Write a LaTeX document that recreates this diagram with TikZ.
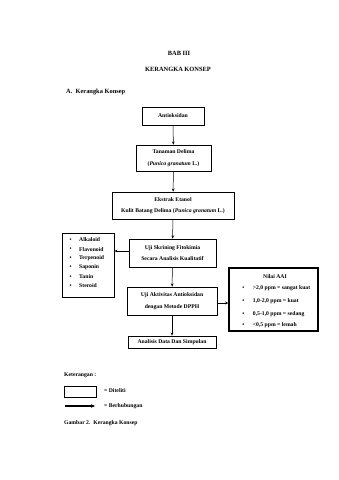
\documentclass[tikz,border=0pt]{standalone}
\usepackage{fontspec}
\setmainfont{Liberation Serif}
\usetikzlibrary{arrows.meta}
\begin{document}
\begin{tikzpicture}[x=1pt,y=-1pt,
  every node/.style={font=\fontsize{5.7}{11.6}\selectfont\bfseries, inner sep=0pt},
  box/.style={draw, line width=0.6pt, rectangle, align=center},
  conn/.style={line width=0.5pt, -{Stealth[length=3.2pt,width=2.6pt]}},
  txt/.style={anchor=west},
  head/.style={font=\fontsize{6.4}{8}\selectfont\bfseries}]
\useasboundingbox (0,0) rectangle (339,480);
\fill[white] (0,0) rectangle (339,480);
\node[head] (bab) at (179,53) {BAB III};
\node[head] (judul) at (178,69) {KERANGKA KONSEP};
\node[txt, head] (sub) at (66,92) {A.\enspace Kerangka Konsep};

\node[box, minimum width=62pt, minimum height=18pt] (anti) at (173,116) {Antioksidan};
\node[box, minimum width=75pt, minimum height=26pt] (tan) at (173.5,158) {Tanaman Delima\\ (\textit{Punica granatum} L.)};
\node[box, minimum width=122pt, minimum height=27pt] (eks) at (173,205.5) {Ekstrak Etanol\\ Kulit Batang Delima (\textit{Punica granatum} L.)};
\node[box, minimum width=87pt, minimum height=28pt] (skr) at (172.5,253) {Uji Skrining Fitokimia\\ Secara Analisis Kualitatif};
\node[box, minimum width=90pt, minimum height=28pt] (akt) at (172,301) {Uji Aktivitas Antioksidan\\ dengan Metode DPPH};
\node[box, minimum width=88pt, minimum height=12pt] (ana) at (172,342) {Analisis Data Dan Simpulan};

\node[box, minimum width=52pt, minimum height=64pt] (list) at (88,265) {};
\foreach \t [count=\i] in {Alkaloid,Flavonoid,Terpenoid,Saponin,Tanin,Steroid}{
  \node (b\i) at (70.7,{240+9.2*(\i-1)}) {\textbullet};
  \node[txt] (l\i) at (79,{240+9.2*(\i-1)}) {\t};
}

\node[box, line width=1.3pt, minimum width=89pt, minimum height=63pt] (aai) at (273.5,299.5) {};
\node (aait) at (275,276.7) {Nilai AAI};
\node (n1) at (243.3,288.3) {\textbullet};
\node[txt] (m1) at (252.7,288.3) {>2,0 ppm = sangat kuat};
\node (n2) at (243.3,301.5) {\textbullet};
\node[txt] (m2) at (252.7,301.5) {1,0-2,0 ppm = kuat};
\node (n3) at (243.3,314.3) {\textbullet};
\node[txt] (m3) at (252.7,314.3) {0,5-1,0 ppm = sedang};
\node (n4) at (243.3,325) {\textbullet};
\node[txt] (m4) at (252.7,325) {<0,5 ppm = lemah};

\draw[conn] (anti) -- (tan);
\draw[conn] (tan) -- (eks);
\draw[conn] (eks) -- (skr);
\draw[conn] (skr) -- (akt);
\draw[conn] (akt) -- (ana);
\coordinate (s1) at ([yshift=2pt]skr.west);
\draw[conn] (s1) -- (s1 -| list.east);
\coordinate (a1) at ([yshift=-2pt]akt.east);
\draw[conn] (a1) -- (a1 -| aai.west);

\node[txt] (ket) at (64,375) {Keterangan :};
\node[box, minimum width=32pt, minimum height=11pt] (leg) at (80,391.5) {};
\node[txt] (legt) at (104,391) {= Diteliti};
\coordinate (la) at (65,406);
\coordinate (lb) at (95,406);
\draw[line width=1.1pt, -{Stealth[length=4pt,width=3.5pt]}] (la) -- (lb);
\node[txt] (legu) at (104,406.5) {= Berhubungan};
\node[txt] (gam) at (64,423) {Gambar 2.\enspace Kerangka Konsep};
\end{tikzpicture}
\end{document}
